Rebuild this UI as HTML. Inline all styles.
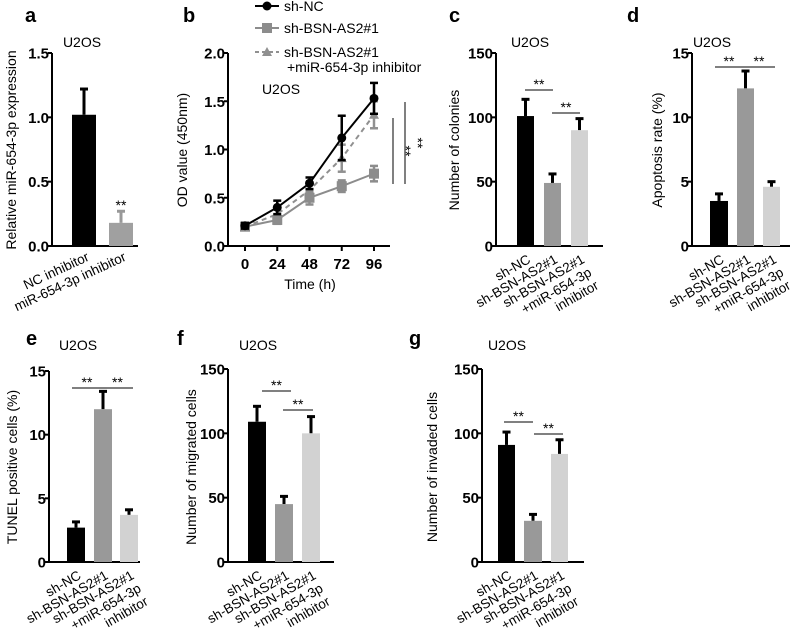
<!DOCTYPE html>
<html><head><meta charset="utf-8"><style>
html,body{margin:0;padding:0;background:#fff;}
svg{display:block;font-family:"Liberation Sans",Arial,sans-serif;}
.tick{font-weight:bold;font-size:15px;}
.ttl{font-size:14px;}
.pl{font-weight:bold;font-size:20px;}
.cat{font-size:13.5px;}
</style></head><body>
<svg id="fig" width="797" height="637" viewBox="0 0 797 637" xmlns="http://www.w3.org/2000/svg"></svg>
<script>
// ---- data ----
const aCats = ["NC inhibitor","miR-654-3p inhibitor"];
const aVals = [1.02, 0.18];
const aErr = [1.22, 0.27];
const aTicks = [0, 0.5, 1.0, 1.5];

const bTimes = [0, 24, 48, 72, 96];
const bNC = [0.21, 0.40, 0.65, 1.12, 1.53];
const bNCerr = [0.03, 0.07, 0.06, 0.23, 0.16];
const bBSN = [0.20, 0.27, 0.50, 0.62, 0.75];
const bBSNerr = [0.03, 0.04, 0.07, 0.06, 0.08];
const bInh = [0.20, 0.33, 0.58, 0.91, 1.36];
const bInherr = [0.03, 0.05, 0.06, 0.14, 0.14];
const bTicks = [0, 0.5, 1.0, 1.5, 2.0];

const cVals = [101, 49, 90]; const cErr = [114, 56, 99];
const dVals = [3.5, 12.25, 4.6]; const dErr = [4.05, 13.6, 5.0];
const eVals = [2.7, 12.0, 3.7]; const eErr = [3.15, 13.4, 4.1];
const fVals = [109, 45, 100]; const fErr = [121, 51, 113];
const gVals = [91, 32, 84]; const gErr = [101, 37, 95];
const tick150 = [0, 50, 100, 150];
const tick15 = [0, 5, 10, 15];

const svg = document.getElementById('fig');
const NS = "http://www.w3.org/2000/svg";
function mk(tag, attrs, parent){
  const e = document.createElementNS(NS, tag);
  for (const k in attrs) e.setAttribute(k, attrs[k]);
  (parent||svg).appendChild(e);
  return e;
}
function txt(x,y,s,cls,anchor,parent,rot){
  const t = mk('text',{x:x,y:y,class:cls,'text-anchor':anchor||'middle'},parent);
  if(rot!==undefined) t.setAttribute('transform','rotate('+rot+' '+x+' '+y+')');
  t.textContent = s;
  return t;
}
function axes(g, x0, xEnd, yTop, yZero, ticks, max, fmt){
  const sy = v => yZero - (yZero - yTop) * v / max;
  const ya = mk('line',{x1:x0,y1:yTop,x2:x0,y2:yZero,stroke:'#000','stroke-width':2},g);
  
  
  const xa = mk('line',{x1:x0-1,y1:yZero,x2:xEnd,y2:yZero,stroke:'#000','stroke-width':2},g);
  
  
  ticks.forEach(v=>{
    const y = sy(v);
    mk('line',{x1:x0-4,y1:y,x2:x0,y2:y,stroke:'#000','stroke-width':2},g);
    const t = txt(x0-3,y+5.5,fmt(v),'tick','end',g);
    
    
  });
  return sy;
}
function errbar(g,x,y1,y2,col,w){
  mk('line',{x1:x,y1:y1,x2:x,y2:y2,stroke:col||'#000','stroke-width':3},g);
  mk('line',{x1:x-(w||4),y1:y2,x2:x+(w||4),y2:y2,stroke:col||'#000','stroke-width':3},g);
}
function sig(g,x1,x2,y){
  mk('line',{x1:x1,y1:y,x2:x2,y2:y,stroke:'#000','stroke-width':1},g);
  const s = txt((x1+x2)/2,y-1,'**','ttl','middle',g);
  
  
}
const colors = ['#000','#999','#d2d2d2'];
function catLabels3(g, centers, yZero){
  const lines = [["sh-NC"],["sh-BSN-AS2#1"],["sh-BSN-AS2#1","+miR-654-3p","inhibitor"]];
  centers.forEach((cx,i)=>{
    lines[i].forEach((s,j)=>{
      const x = cx + 6 + j*7, y = yZero + 16 + j*13;
      const t = txt(x,y,s,'cat','end',g,-30);
      
      
    });
  });
}
function barPanel(name, letter, lx, ly, ux, uy, ytx, yty, ytitle, x0, xEnd, yTop, yZero, ticks, max, bars, vals, errs, sigs){
  const g = mk('g',{});
  
  
  const pl = txt(lx,ly,letter,'pl','start',g);
  
  
  const u = txt(ux,uy,'U2OS','ttl','middle',g);
  
  
  const yt = txt(ytx,yty,ytitle,'ttl','middle',g,-90);
  
  
  const sy = axes(g,x0,xEnd,yTop,yZero,ticks,max,v=>String(v));
  const centers = [];
  vals.forEach((v,i)=>{
    const [bx1,bx2] = bars[i];
    const cx = (bx1+bx2)/2; centers.push(cx);
    errbar(g,cx,sy(v),sy(errs[i]));
    const r = mk('rect',{x:bx1,y:sy(v),width:bx2-bx1,height:yZero-sy(v),fill:colors[i]},g);
    
    
  });
  sigs.forEach(s=>sig(g,s[0],s[1],s[2]));
  catLabels3(g,centers,yZero);
}

// ---- panel a ----
(function(){
  const g = mk('g',{});
  
  
  const pl = txt(25,22,'a','pl','start',g);
  
  
  const u = txt(82,47,'U2OS','ttl','middle',g);
  
  
  const yt = txt(16,150,'Relative miR-654-3p expression','ttl','middle',g,-90);
  
  
  const sy = axes(g,52,138,53,246,aTicks,1.5,v=>v.toFixed(1));
  const bars = [[72,96],[109,133]];
  aVals.forEach((v,i)=>{
    const cx=(bars[i][0]+bars[i][1])/2;
    errbar(g,cx,sy(v),sy(aErr[i]),colors[i]);
    const r = mk('rect',{x:bars[i][0],y:sy(v),width:24,height:246-sy(v),fill:i?'#a0a0a0':'#000'},g);
    
    
    const t = txt(cx+6,260,aCats[i],'cat','end',g,-25);
    
    
  });
  const s = txt(121,210,'**','ttl','middle',g);
  
  
})();

// ---- panel b ----
(function(){
  const g = mk('g',{});
  
  
  const pl = txt(183,22,'b','pl','start',g);
  
  
  const u = txt(281,94,'U2OS','ttl','middle',g);
  
  
  const yt = txt(187,150,'OD value (450nm)','ttl','middle',g,-90);
  
  
  const sy = axes(g,228,390,53,246,bTicks,2.0,v=>v.toFixed(1));
  const sx = t => 245 + (374-245)*t/96;
  bTimes.forEach(t=>{
    mk('line',{x1:sx(t),y1:246,x2:sx(t),y2:251,stroke:'#000','stroke-width':2},g);
    const l = txt(sx(t),269,String(t),'tick','middle',g);
    
    
  });
  const xt = txt(310,289,'Time (h)','ttl','middle',g);
  
  
  const series = [
    {v:bInh,e:bInherr,c:'#909090',dash:'5,4',m:'tri',n:'series-bsn-inhibitor'},
    {v:bBSN,e:bBSNerr,c:'#8c8c8c',dash:'',m:'sq',n:'series-sh-bsn'},
    {v:bNC,e:bNCerr,c:'#000',dash:'',m:'circ',n:'series-sh-nc'}
  ];
  function marker(m,x,y,c,par){
    if(m==='circ') return mk('circle',{cx:x,cy:y,r:4.5,fill:c},par);
    if(m==='sq') return mk('rect',{x:x-5,y:y-5,width:10,height:10,fill:c},par);
    return mk('polygon',{points:(x)+','+(y-5)+' '+(x-5)+','+(y+4)+' '+(x+5)+','+(y+4),fill:c},par);
  }
  series.forEach(s=>{
    const sg = mk('g',{},g);
    
    
    const pts = s.v.map((v,i)=>sx(bTimes[i])+','+sy(v)).join(' ');
    const pl2 = mk('polyline',{points:pts,fill:'none',stroke:s.c,'stroke-width':2,'stroke-dasharray':s.dash},sg);
    
    
    s.v.forEach((v,i)=>{
      const x=sx(bTimes[i]);
      mk('line',{x1:x,y1:sy(v-s.e[i]),x2:x,y2:sy(v+s.e[i]),stroke:s.c,'stroke-width':2.5},sg);
      mk('line',{x1:x-4,y1:sy(v+s.e[i]),x2:x+4,y2:sy(v+s.e[i]),stroke:s.c,'stroke-width':2.5},sg);
      mk('line',{x1:x-4,y1:sy(v-s.e[i]),x2:x+4,y2:sy(v-s.e[i]),stroke:s.c,'stroke-width':2.5},sg);
      const mm = marker(s.m,x,sy(v),s.c,sg);
      
      
    });
  });
  mk('line',{x1:393,y1:118,x2:393,y2:184,stroke:'#000','stroke-width':1},g);
  mk('line',{x1:405,y1:102,x2:405,y2:184,stroke:'#000','stroke-width':1},g);
  const s1 = txt(401,151,'**','ttl','middle',g,90);
  
  
  const s2 = txt(413,143,'**','ttl','middle',g,90);
  
  
  // legend
  const lg = mk('g',{},g);
  
  
  const leg = [
    {y:6,c:'#000',m:'circ',dash:'',t:['sh-NC']},
    {y:28,c:'#8c8c8c',m:'sq',dash:'',t:['sh-BSN-AS2#1']},
    {y:52,c:'#909090',m:'tri',dash:'4,3',t:['sh-BSN-AS2#1','+miR-654-3p inhibitor']}
  ];
  leg.forEach(l=>{
    const e = mk('g',{},lg);
    
    
    mk('line',{x1:255,y1:l.y,x2:279,y2:l.y,stroke:l.c,'stroke-width':2,'stroke-dasharray':l.dash},e);
    marker(l.m,267,l.y,l.c,e);
    txt(284,l.y+5,l.t[0],'ttl','start',e);
    if(l.t[1]) txt(287,l.y+20,l.t[1],'ttl','start',e);
  });
})();

barPanel('panel-c','c',449,22,530,47,459,150,'Number of colonies',496,603,53,246,tick150,150,
  [[517,534],[544,561],[571,588]],cVals,cErr,[[525,553,90],[552,580,113]]);
barPanel('panel-d','d',627,22,712,47,662,150,'Apoptosis rate (%)',692,790,53,246,tick15,15,
  [[710,728],[737,754],[763,780]],dVals,dErr,[[715,743,67],[743,775,67]]);
barPanel('panel-e','e',26,345,78,350,17,467,'TUNEL positive cells (%)',49,140,371,562,tick15,15,
  [[67,85],[94,112],[120,138]],eVals,eErr,[[72,102,388],[102,133,388]]);
barPanel('panel-f','f',177,345,258,350,196,467,'Number of migrated cells',228,334,369,562,tick150,150,
  [[248,266],[275,293],[302,320]],fVals,fErr,[[262,291,391],[283,313,410]]);
barPanel('panel-g','g',409,345,507,350,437,467,'Number of invaded cells',482,584,369,562,tick150,150,
  [[498,515],[524,542],[551,568]],gVals,gErr,[[504,533,422],[534,563,434]]);
</script>
</body></html>
